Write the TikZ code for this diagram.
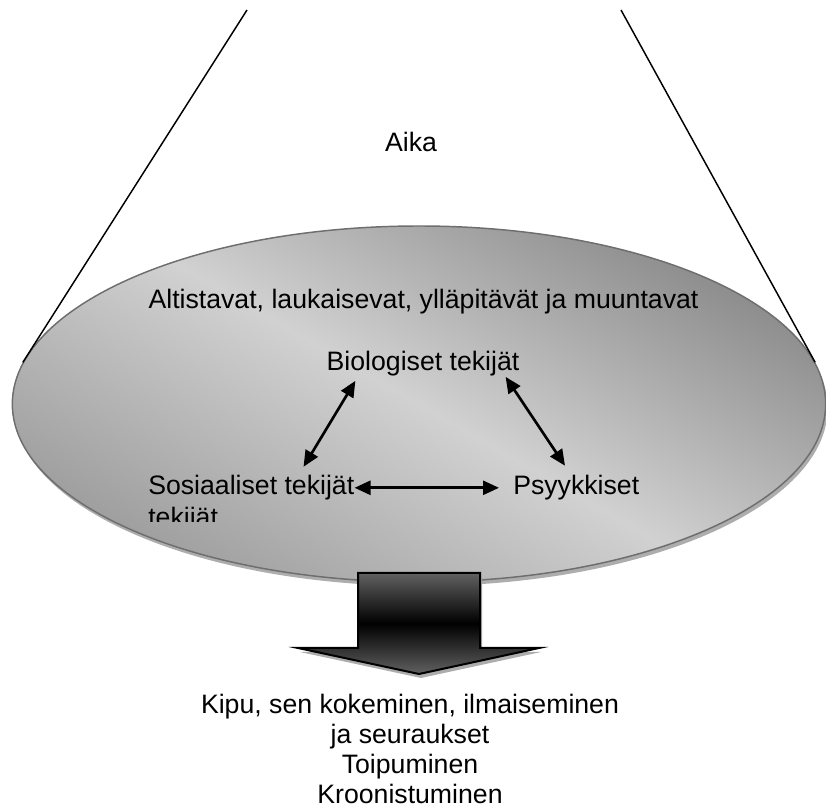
\documentclass[tikz,border=0pt]{standalone}
\usepackage{fontspec}
\setmainfont{Liberation Sans}
\usetikzlibrary{positioning,arrows.meta,shapes.geometric,shadows}
\definecolor{rimgray}{HTML}{6E6E6E}

\begin{document}
\begin{tikzpicture}[x=0.75pt,y=-0.75pt,
  every node/.style={font=\fontsize{20}{22.5}\selectfont, inner sep=0pt},
  factor/.style={text height=15pt, text depth=4.2pt},
  biarrow/.style={{Triangle[length=12pt,width=10.5pt]}-{Triangle[length=12pt,width=10.5pt]}, line width=2pt},
  rope/.style={line width=1.1pt},
  flatshadow/.style={drop shadow={shadow xshift=1.5pt, shadow yshift=-3pt, fill=black!32, opacity=1}}
]
\useasboundingbox (0,0) rectangle (826,809);
% time funnel
\coordinate (ltop) at (247,10);
\coordinate (rtop) at (621,10);
\node[ellipse, draw=rimgray, line width=1.1pt, minimum width=610pt, minimum height=267pt,
  top color=black!45, bottom color=black!38, middle color=black!18, shading angle=-30,
  flatshadow] (disc) at (419,404) {};
\draw[rope] (ltop) -- (disc.174);
\draw[rope] (rtop) -- (disc.6);
\node[anchor=base] (aika) at (411,152) {Aika};
\node[anchor=base] (kinds) at (423.5,309) {Altistavat, laukaisevat, ylläpitävät ja muuntavat};
% the three factors
\node[factor, anchor=base] (bio) at (423,371) {Biologiset tekijät};
\node[factor, anchor=base west] (sos) at (148,495) {Sosiaaliset tekijät};
\node[factor, anchor=base west] (psy) at (513,495) {Psyykkiset};
\begin{scope}
  \clip (140,500) rectangle (360,522);
  \node[anchor=base west] (sos2) at (148,527) {tekijät};
\end{scope}
\draw[biarrow] ([shift={(-51,-8)}]sos.north east) -- ([shift={(29,4)}]bio.south west);
\draw[biarrow] ([shift={(-14,0)}]bio.south east) -- ([shift={(52,-9)}]psy.north west);
\draw[biarrow] (sos.east) -- ([shift={(-14,0)}]psy.west);
% outcome arrow
\draw[line width=1.5pt, top color=black!62, bottom color=black!62, middle color=black, flatshadow]
  (358,573) -- (480,573) -- (480,648) -- (539,648) -- (419,674) -- (298,648) -- (358,648) -- cycle;
\node[anchor=north, align=center] (outcome) at (410,694)
  {Kipu, sen kokeminen, ilmaiseminen\\ja seuraukset\\Toipuminen\\Kroonistuminen};
\end{tikzpicture}
\end{document}
